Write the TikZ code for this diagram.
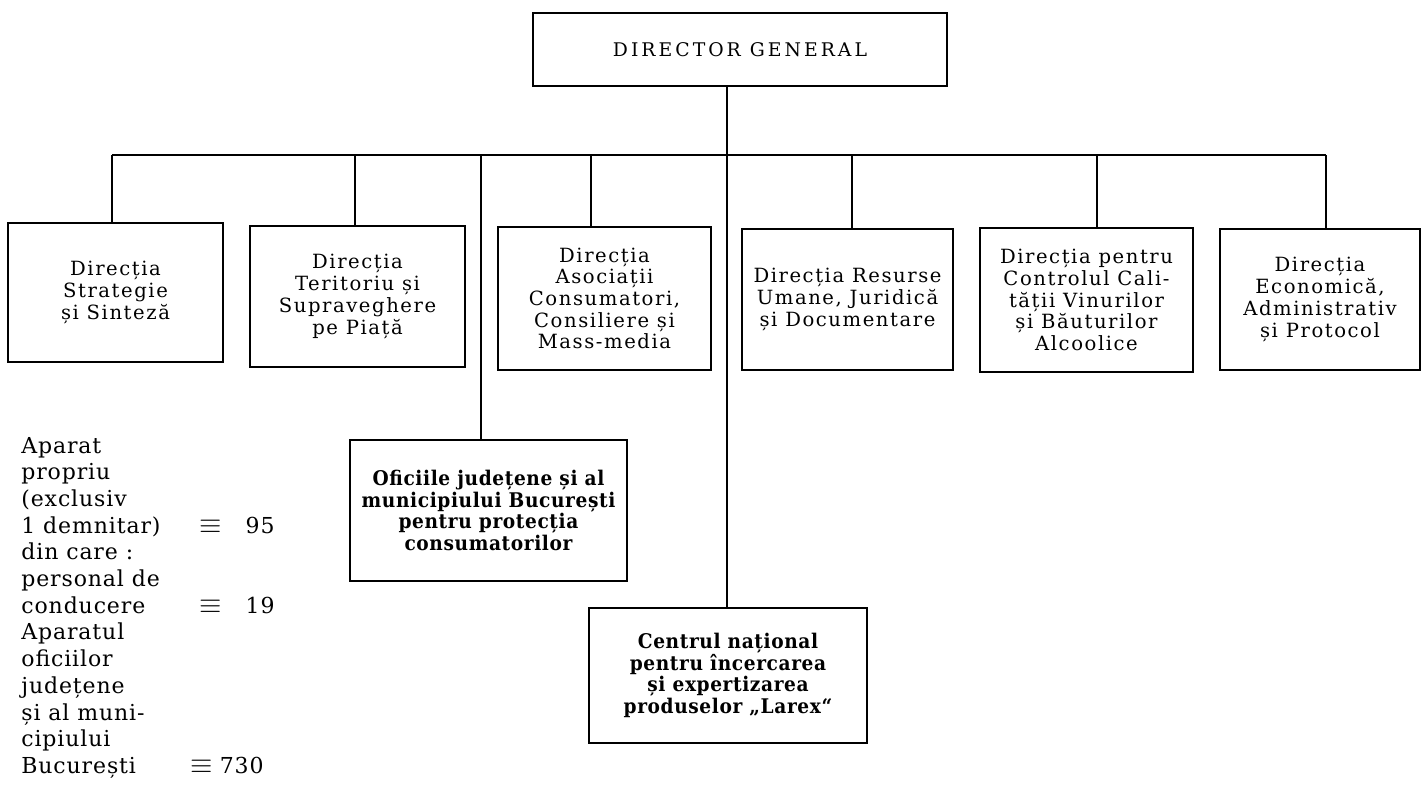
\documentclass[tikz,border=0pt]{standalone}
\usepackage{fontspec}
\setmainfont{DejaVu Serif}
\newcommand{\boxfont}{\fontsize{9.8}{10.85}\selectfont\addfontfeatures{LetterSpace=8}}
\newcommand{\boldboxfont}{\fontsize{10.1}{10.85}\selectfont\bfseries\addfontfeatures{LetterSpace=3,FakeStretch=0.92}}
\newcommand{\dirfont}{\fontsize{9.4}{11}\selectfont\addfontfeatures{LetterSpace=16}}
\newcommand{\sidefont}{\fontsize{11}{13.35}\selectfont\addfontfeatures{LetterSpace=4}}
\begin{document}
\begin{tikzpicture}[x=0.5pt,y=-0.5pt,
  box/.style={draw, line width=1.2pt, inner sep=0pt, align=center, font=\boxfont},
  boldbox/.style={box, font=\boldboxfont},
  link/.style={line width=0.8pt},
  side/.style={anchor=base west, inner sep=0pt, font=\sidefont},
  sidenum/.style={anchor=base east, inner sep=0pt, font=\sidefont},
  sideeq/.style={anchor=base, inner sep=0pt, font=\fontsize{14}{14}\selectfont}]
\fill[white] (0,0) rectangle (1423,784);
\useasboundingbox (0,0) rectangle (1423,784);

% boxes
\node[box, minimum width=207pt, minimum height=36.5pt, font=\dirfont] (dir) at (740,49.5) {DIRECTOR GENERAL};
\node[box, minimum width=107.5pt, minimum height=69.5pt] (b1) at (115.5,292.5) {Direcția\\Strategie\\și Sinteză};
\node[box, minimum width=107.5pt, minimum height=70.5pt] (b2) at (357.5,296.5) {Direcția\\Teritoriu și\\Supraveghere\\pe Piață};
\node[box, minimum width=106.5pt, minimum height=71.5pt] (b3) at (604.5,298.5) {Direcția\\Asociații\\Consumatori,\\Consiliere și\\Mass-media};
\node[box, minimum width=105.5pt, minimum height=70.5pt] (b4) at (847.5,299.5) {Direcția Resurse\\Umane, Juridică\\și Documentare};
\node[box, minimum width=106.5pt, minimum height=72pt] (b5) at (1086.5,300) {Direcția pentru\\Controlul Cali-\\tății Vinurilor\\și Băuturilor\\Alcoolice};
\node[box, minimum width=100pt, minimum height=70.5pt] (b6) at (1320,299.5) {Direcția\\Economică,\\Administrativ\\și Protocol};
\node[boldbox, minimum width=138.5pt, minimum height=70.5pt] (b7) at (488.5,510.5) {Oficiile județene și al\\municipiului București\\pentru protecția\\consumatorilor};
\node[boldbox, minimum width=139pt, minimum height=67.5pt] (b8) at (728,675.5) {Centrul național\\pentru încercarea\\și expertizarea\\produselor „Larex“};

% junctions on the bar
\coordinate (j1) at (112,155);
\coordinate (j2) at (355,155);
\coordinate (j3) at (481,155);
\coordinate (j4) at (591,155);
\coordinate (j5) at (727,155);
\coordinate (j6) at (852,155);
\coordinate (j7) at (1097,155);
\coordinate (j8) at (1326,155);

\draw[link] (j1) -- (j8);
\draw[link] (j1) -- (j1 |- b1.north);
\draw[link] (j2) -- (j2 |- b2.north);
\draw[link] (j3) -- (j3 |- b7.north);
\draw[link] (j4) -- (j4 |- b3.north);
\draw[link] (dir.south -| j5) -- (j5 |- b8.north);
\draw[link] (j6) -- (j6 |- b4.north);
\draw[link] (j7) -- (j7 |- b5.north);
\draw[link] (j8) -- (j8 |- b6.north);

% side notes
\foreach \t [count=\i from 0] in {Aparat,propriu,{(exclusiv},{1 demnitar)},{din care :},{personal de},conducere,Aparatul,oficiilor,județene,{și al muni-},cipiului,București}
  \node[side] (s\i) at (21,{453+26.7*\i}) {\t};

\node[sideeq] (e1) at (211,533) {$\equiv$};
\node[sidenum] (n1) at (275,533) {95};
\node[sideeq] (e2) at (211,613) {$\equiv$};
\node[sidenum] (n2) at (275,613) {19};
\node[sideeq] (e3) at (202,773) {$\equiv$};
\node[sidenum] (n3) at (264,773) {730};
\end{tikzpicture}
\end{document}
